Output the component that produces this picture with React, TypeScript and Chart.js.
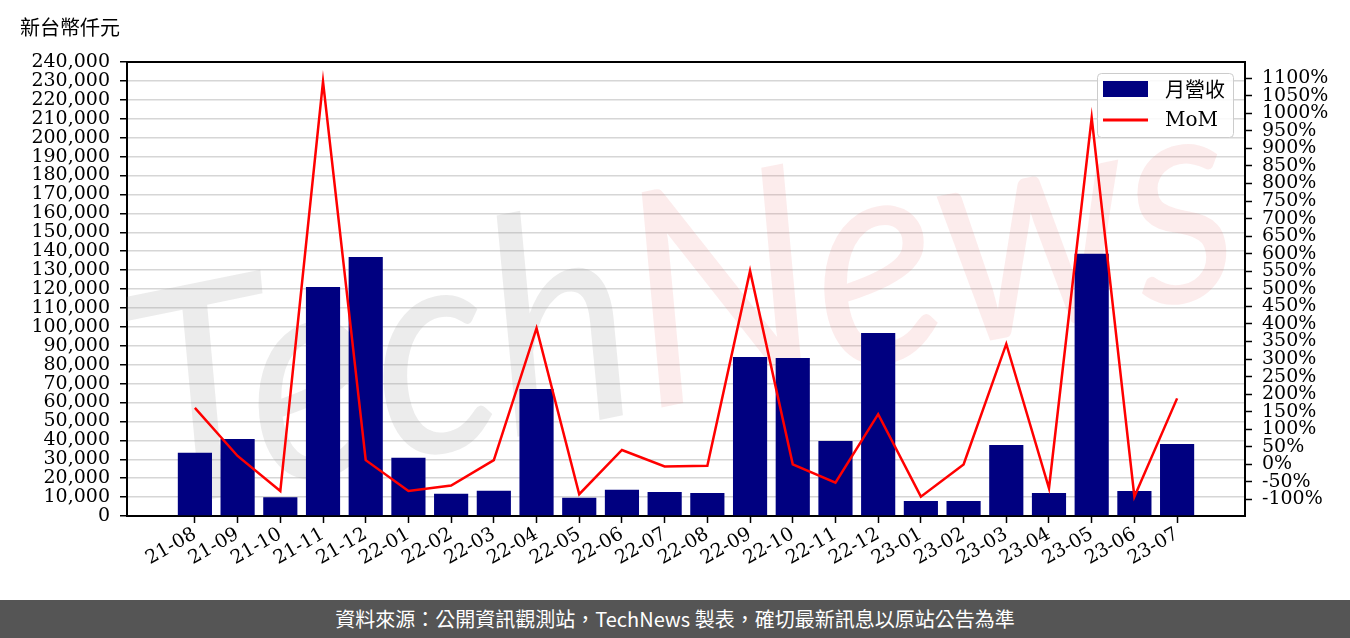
import React, { useEffect, useRef } from 'react';
import { Chart, registerables } from 'chart.js';

Chart.register(...registerables);

const categories = ['21-08', '21-09', '21-10', '21-11', '21-12', '22-01', '22-02', '22-03', '22-04', '22-05', '22-06', '22-07', '22-08', '22-09', '22-10', '22-11', '22-12', '23-01', '23-02', '23-03', '23-04', '23-05', '23-06', '23-07'];
const revenue = [33500, 40700, 9900, 121000, 136900, 30800, 11800, 13400, 67100, 9700, 13900, 12700, 12200, 84000, 83500, 39600, 96700, 7900, 7900, 37500, 12200, 138600, 13200, 38000];
const mom = [161, 24, -76, 1090, 12, -76, -60, 12, 388, -85, 41, -6, -4, 551, 0, -52, 143, -92, 0, 343, -68, 987, -92, 188];
const leftTicks = Array.from({ length: 25 }, (_, i) => i * 10000);
const rightTicks = Array.from({ length: 25 }, (_, i) => -100 + i * 50);

const unitLabel = '新台幣仟元';
const barLabel = '月營收';
const lineLabel = 'MoM';
const footerText = '資料來源：公開資訊觀測站，TechNews 製表，確切最新訊息以原站公告為準';

const SERIF = '"DejaVu Serif", serif';
const CJK = '"Noto Sans CJK TC", "Noto Sans", sans-serif';

const decorPlugin = {
  id: 'decor',
  beforeDatasetsDraw(chart: any) {
    const ctx = chart.ctx;
    const ca = chart.chartArea;
    ctx.save();
    ctx.beginPath();
    ctx.rect(ca.left, ca.top, ca.right - ca.left, ca.bottom - ca.top);
    ctx.clip();
    ctx.translate(680, 305);
    ctx.rotate((-11.5 * Math.PI) / 180);
    ctx.font = 'italic 300px Lato, sans-serif';
    ctx.textBaseline = 'middle';
    const wTech = ctx.measureText('Tech').width;
    const wAll = ctx.measureText('TechNews').width;
    const sx = 1120 / wAll;
    ctx.scale(sx, 1);
    ctx.fillStyle = 'rgba(160,160,160,0.2)';
    ctx.fillText('Tech', -wAll / 2, 0);
    ctx.fillStyle = 'rgba(230,110,110,0.13)';
    ctx.fillText('News', -wAll / 2 + wTech, 0);
    ctx.restore();
  },
  afterDraw(chart: any) {
    const ctx = chart.ctx;
    const ca = chart.chartArea;
    ctx.save();
    ctx.strokeStyle = '#000';
    ctx.lineWidth = 2;
    ctx.beginPath();
    ctx.moveTo(ca.left - 1, ca.top);
    ctx.lineTo(ca.right + 1, ca.top);
    ctx.stroke();
    ctx.fillStyle = '#000';
    ctx.font = '20px ' + CJK;
    ctx.textBaseline = 'middle';
    ctx.textAlign = 'left';
    ctx.fillText(unitLabel, 20, 27);
    const lx = 1097, ly = 73, lw = 136, lh = 64;
    ctx.fillStyle = 'rgba(255,255,255,0.85)';
    ctx.strokeStyle = '#cccccc';
    ctx.lineWidth = 1;
    ctx.beginPath();
    ctx.roundRect(lx + 0.5, ly + 0.5, lw, lh, 4);
    ctx.fill();
    ctx.stroke();
    ctx.fillStyle = '#000080';
    ctx.fillRect(1103, 81, 45, 16);
    ctx.strokeStyle = '#ff0000';
    ctx.lineWidth = 3;
    ctx.beginPath();
    ctx.moveTo(1103, 120);
    ctx.lineTo(1148, 120);
    ctx.stroke();
    ctx.fillStyle = '#000';
    ctx.font = '20px ' + CJK;
    ctx.fillText(barLabel, 1165, 89);
    ctx.font = '20px ' + SERIF;
    ctx.fillText(lineLabel, 1165, 121);
    ctx.restore();
  },
};

export default function App() {
  const ref = useRef<HTMLCanvasElement | null>(null);

  useEffect(() => {
    document.body.style.margin = '0';
    Chart.defaults.color = '#000';
    const canvas = ref.current;
    if (!canvas) return;
    const chart = new Chart(canvas, {
      type: 'bar',
      data: {
        datasets: [
          {
            type: 'line',
            label: lineLabel,
            data: mom.map((v, i) => ({ x: i, y: v })),
            borderColor: '#ff0000',
            borderWidth: 2.5,
            pointRadius: 0,
            tension: 0,
            yAxisID: 'y1',
            order: 0,
          } as any,
          {
            type: 'bar',
            label: barLabel,
            data: revenue.map((v, i) => ({ x: i, y: v })),
            backgroundColor: '#000080',
            borderWidth: 0,
            categoryPercentage: 1,
            barPercentage: 0.8,
            yAxisID: 'y',
            order: 1,
          } as any,
        ],
      },
      options: {
        responsive: false,
        animation: false,
        events: [],
        layout: { padding: { top: 62, left: 0, right: 0, bottom: 0 } },
        plugins: { legend: { display: false }, tooltip: { enabled: false }, title: { display: false } },
        scales: {
          x: {
            type: 'linear',
            offset: false,
            min: -1.59,
            max: 24.59,
            afterBuildTicks: (scale: any) => {
              scale.ticks = categories.map((_, i) => ({ value: i }));
            },
            afterFit: (scale: any) => {
              scale.height = 84;
            },
            ticks: {
              autoSkip: false,
              minRotation: 30,
              maxRotation: 30,
              padding: 0,
              font: { family: SERIF, size: 19 },
              color: '#000',
              callback: (v: any) => categories[Math.round(Number(v))] ?? '',
            },
            grid: { display: true, offset: false, drawOnChartArea: false, drawTicks: true, tickLength: 7, tickColor: '#000', tickWidth: 1.5 },
            border: { display: true, color: '#000', width: 2 },
          },
          y: {
            type: 'linear',
            position: 'left',
            min: 0,
            max: 240000,
            afterBuildTicks: (scale: any) => {
              scale.ticks = leftTicks.map((v) => ({ value: v }));
            },
            afterFit: (scale: any) => {
              scale.width = 127;
            },
            ticks: {
              autoSkip: false,
              padding: 10,
              font: { family: SERIF, size: 19 },
              color: '#000',
              callback: (v: any) => Number(v).toLocaleString('en-US'),
            },
            grid: { color: '#d6d6d6', lineWidth: 1.5, drawTicks: true, tickLength: 7, tickColor: '#000', tickWidth: 1.5 },
            border: { display: true, color: '#000', width: 2 },
          },
          y1: {
            type: 'linear',
            position: 'right',
            min: -147,
            max: 1146,
            afterBuildTicks: (scale: any) => {
              scale.ticks = rightTicks.map((v) => ({ value: v }));
            },
            afterFit: (scale: any) => {
              scale.width = 105;
            },
            ticks: {
              autoSkip: false,
              padding: 10,
              font: { family: SERIF, size: 19 },
              color: '#000',
              callback: (v: any) => `${v}%`,
            },
            grid: { drawOnChartArea: false, drawTicks: true, tickLength: 7, tickColor: '#000', tickWidth: 1.5 },
            border: { display: true, color: '#000', width: 2 },
          },
        },
      } as any,
      plugins: [decorPlugin],
    });
    return () => chart.destroy();
  }, []);

  return (
    <div style={{ width: 1350, height: 638, position: 'relative', background: '#fff' }}>
      <canvas ref={ref} width={1350} height={600} style={{ display: 'block', width: 1350, height: 600 }} />
      <div
        style={{
          position: 'absolute',
          left: 0,
          top: 600,
          width: 1350,
          height: 38,
          background: '#555555',
          color: '#ffffff',
          fontFamily: CJK,
          fontSize: 20,
          lineHeight: '38px',
          textAlign: 'center',
          whiteSpace: 'nowrap',
        }}
      >
        {footerText}
      </div>
    </div>
  );
}
